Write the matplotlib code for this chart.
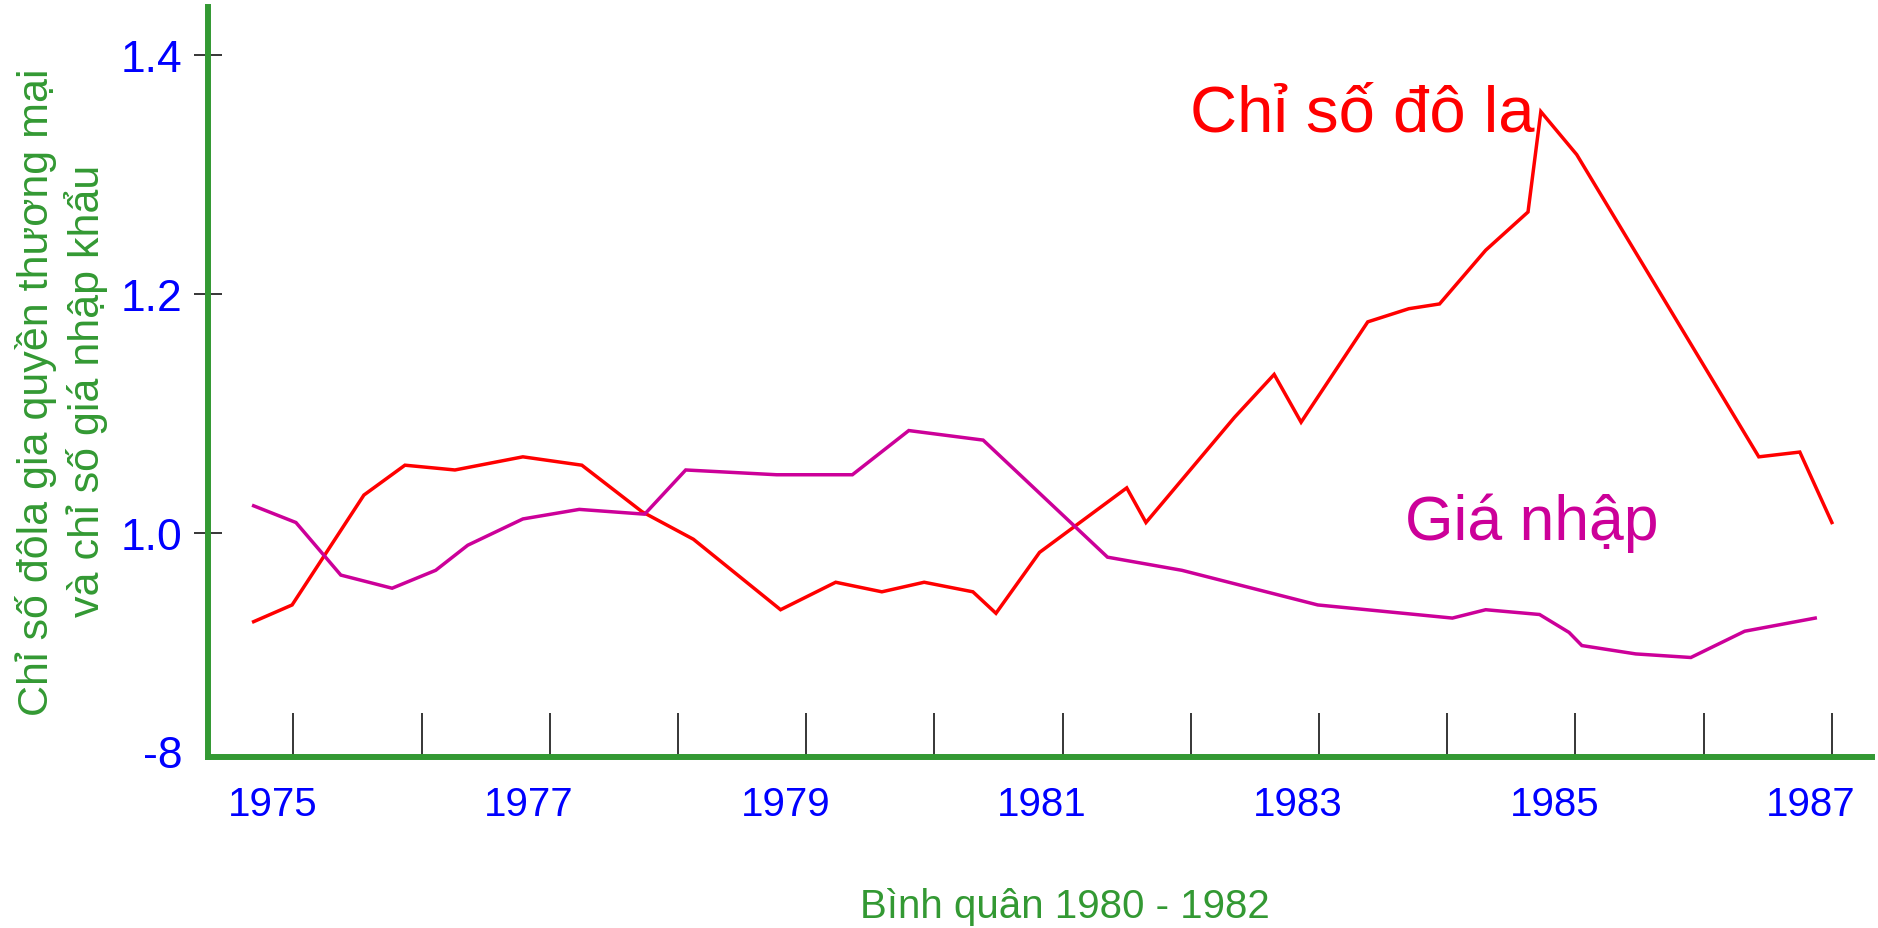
import matplotlib
matplotlib.use("Agg")
import matplotlib.pyplot as plt
import matplotlib.transforms as mtransforms

plt.rcParams['font.family'] = ['Liberation Sans', 'DejaVu Sans']

# ---- data ----
dollar_years = [1974.69, 1974.99, 1975.55, 1975.87, 1976.26, 1976.79, 1977.25, 1977.72,
                1978.12, 1978.80, 1979.23, 1979.59, 1979.92, 1980.30, 1980.48, 1980.82,
                1981.50, 1981.65, 1982.34, 1982.65, 1982.86, 1983.38, 1983.70, 1983.94,
                1984.30, 1984.63, 1984.73, 1985.01, 1986.43, 1986.75, 1987.00]
dollar_index = [0.926, 0.940, 1.032, 1.057, 1.053, 1.064, 1.057, 1.018,
                0.995, 0.936, 0.959, 0.951, 0.959, 0.951, 0.933, 0.984,
                1.038, 1.009, 1.097, 1.133, 1.093, 1.177, 1.188, 1.192,
                1.237, 1.269, 1.353, 1.317, 1.064, 1.068, 1.009]

import_years = [1974.69, 1975.02, 1975.37, 1975.77, 1976.11, 1976.36, 1976.79, 1977.23,
                1977.74, 1978.06, 1978.77, 1979.36, 1979.80, 1980.38, 1981.35, 1981.93,
                1982.99, 1984.04, 1984.30, 1984.72, 1984.95, 1985.05, 1985.47, 1985.90,
                1986.32, 1986.87]
import_price = [1.023, 1.009, 0.965, 0.954, 0.969, 0.990, 1.012, 1.020,
                1.016, 1.053, 1.049, 1.049, 1.086, 1.078, 0.980, 0.969,
                0.940, 0.929, 0.936, 0.932, 0.917, 0.906, 0.899, 0.896,
                0.918, 0.929]

x_ticks = list(range(1975, 1988))
x_tick_labels = [str(y) if y % 2 == 1 else '' for y in x_ticks]
y_ticks = [0.818, 1.0, 1.2, 1.4]
y_tick_labels = ['-8', '1.0', '1.2', '1.4']

label_dollar = 'Chỉ số đô la'
label_import = 'Giá nhập'
x_title = 'Bình quân 1980 - 1982'
y_title_1 = 'Chỉ số đôla gia quyền thương mại'
y_title_2 = 'và chỉ số giá nhập khẩu'

GREEN = '#339933'
RED = '#ff0000'
PURPLE = '#cc0099'
BLUE = '#0000ff'

W, H = 1878, 929
fig = plt.figure(figsize=(W / 100, H / 100), dpi=100)
ax = fig.add_axes([208 / W, 1 - 758 / H, (1872 - 208) / W, (758 - 8) / H])

ax.plot(dollar_years, dollar_index, color=RED, lw=2.5, solid_joinstyle='miter')
ax.plot(import_years, import_price, color=PURPLE, lw=2.5, solid_joinstyle='miter')

ax.set_xlim(1974.334, 1987.313)
ax.set_ylim(0.8127, 1.4406)

for s in ['top', 'right']:
    ax.spines[s].set_visible(False)
for s in ['left', 'bottom']:
    ax.spines[s].set_color(GREEN)
    ax.spines[s].set_linewidth(4.3)
    ax.spines[s].set_zorder(3)

ax.set_xticks(x_ticks)
ax.set_xticklabels(x_tick_labels)
ax.set_yticks(y_ticks)
ax.set_yticklabels(y_tick_labels)

ax.tick_params(axis='x', direction='in', length=32, width=1.1, color='black',
               pad=20, labelsize=29, labelcolor=BLUE)
ax.tick_params(axis='y', direction='inout', length=20, width=1.1, color='black',
               pad=8.7, labelsize=32, labelcolor=BLUE)
ax.yaxis.get_major_ticks()[0].tick1line.set_visible(False)

offset = mtransforms.ScaledTranslation(-0.21, 0, fig.dpi_scale_trans)
for lbl in ax.get_xticklabels():
    lbl.set_transform(lbl.get_transform() + offset)

fig.text(1190 / W, 1 - 131.7 / H, label_dollar, color=RED, fontsize=47,
         ha='left', va='baseline')
fig.text(1405 / W, 1 - 540 / H, label_import, color=PURPLE, fontsize=45,
         ha='left', va='baseline')
fig.text(1065 / W, 1 - 918 / H, x_title, color=GREEN, fontsize=29,
         ha='center', va='baseline')
fig.text(36 / W, 1 - 392 / H, y_title_1, color=GREEN, fontsize=31,
         rotation=90, ha='center', va='center')
fig.text(86 / W, 1 - 391 / H, y_title_2, color=GREEN, fontsize=31,
         rotation=90, ha='center', va='center')

fig.savefig('out.png', dpi=100)
